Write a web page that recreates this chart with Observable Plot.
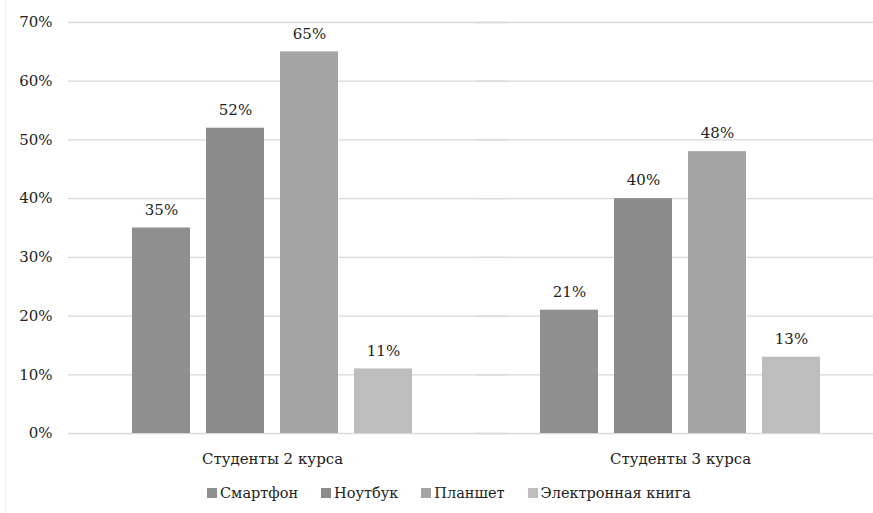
<!DOCTYPE html>
<html>
<head>
<meta charset="utf-8">
<script src="https://cdn.jsdelivr.net/npm/d3@7"></script>
<script src="https://cdn.jsdelivr.net/npm/@observablehq/plot@0.6"></script>
<style>
  html, body { margin: 0; padding: 0; background: #fff; }
  #wrap { position: relative; width: 873px; height: 513px; overflow: hidden; font-family: "DejaVu Serif", serif; }
  #border { position: absolute; left: 5px; top: 0; width: 1px; height: 513px; background: #f0f0f0; }
  #legend { position: absolute; left: 0; top: 485px; width: 898px; display: flex; justify-content: center; gap: 0 23px; font-size: 14.5px; color: #222; }
  .item { display: flex; align-items: center; }
  .sw { width: 10px; height: 10px; margin-right: 3px; }
  svg text { font-family: "DejaVu Serif", serif !important; }
</style>
</head>
<body>
<div id="wrap"><div id="border"></div><div id="chart"></div><div id="legend"></div></div>
<script>
const groups = ["Студенты 2 курса", "Студенты 3 курса"];
const devices = ["Смартфон", "Ноутбук", "Планшет", "Электронная книга"];
const course2 = [0.35, 0.52, 0.65, 0.11];
const course3 = [0.21, 0.40, 0.48, 0.13];
const colors = ["#8f8f8f", "#8b8b8b", "#a4a4a4", "#bdbdbd"];
const yTicks = [0, 0.1, 0.2, 0.3, 0.4, 0.5, 0.6, 0.7];

const data = [];
devices.forEach((d, i) => data.push({group: groups[0], device: d, value: course2[i]}));
devices.forEach((d, i) => data.push({group: groups[1], device: d, value: course3[i]}));

const fmt = d => Math.round(d * 100) + "%";

const chart = Plot.plot({
  width: 873,
  height: 478,
  marginLeft: 68,
  marginRight: 0,
  marginTop: 22,
  marginBottom: 45,
  style: {fontFamily: "'DejaVu Serif', serif", fontSize: "15px", color: "#222", background: "transparent"},
  fx: {domain: groups, range: [68, 884], paddingInner: 0, paddingOuter: 0, label: null},
  x: {domain: devices, paddingInner: 0.22, paddingOuter: 0.855, axis: null},
  y: {domain: [0, 0.7], ticks: yTicks, tickFormat: fmt, label: null},
  color: {domain: devices, range: colors},
  marks: [
    Plot.ruleY(yTicks, {stroke: "#d9d9d9", strokeWidth: 1.3, insetRight: -30}),
    Plot.axisY({ticks: yTicks, tickSize: 0, tickPadding: 16, tickFormat: fmt, label: null, fontSize: "15px"}),
    Plot.axisFx({anchor: "bottom", tickSize: 0, tickPadding: 20, label: null, fontSize: "15px"}),
    Plot.barY(data, {fx: "group", x: "device", y: "value", fill: "device"}),
    Plot.text(data, {fx: "group", x: "device", y: "value", text: d => fmt(d.value), dy: -18, fontSize: "15px", fill: "#222"})
  ]
});
document.getElementById("chart").appendChild(chart);

const legend = document.getElementById("legend");
devices.forEach((d, i) => {
  const item = document.createElement("div");
  item.className = "item";
  const sw = document.createElement("span");
  sw.className = "sw";
  sw.style.background = colors[i];
  const t = document.createElement("span");
  t.textContent = d;
  item.appendChild(sw);
  item.appendChild(t);
  legend.appendChild(item);
});
</script>
</body>
</html>
